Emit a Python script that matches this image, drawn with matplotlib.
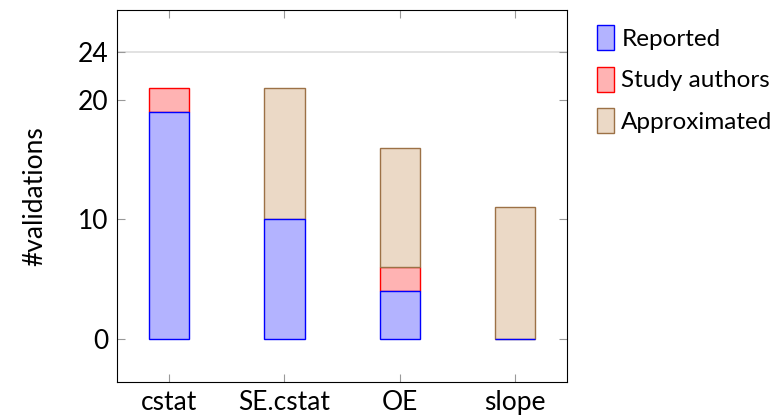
import numpy as np
import matplotlib.pyplot as plt

plt.rcParams['font.family'] = ['Lato', 'DejaVu Sans']
plt.rcParams['font.size'] = 19

categories = ["cstat", "SE.cstat", "OE", "slope"]
reported = [19, 10, 4, 0]
study_authors = [2, 0, 2, 0]
approximated = [0, 11, 10, 11]

fig = plt.figure(figsize=(7.84, 4.18), dpi=100)
ax = fig.add_axes([117/784, 1 - 382/418, 450/784, 372/418])

x = np.arange(len(categories))
w = 0.35
rep = np.array(reported)
stu = np.array(study_authors)
app = np.array(approximated)

# stacked bars, reported on top in z so the zero bar of slope still shows
ax.bar(x, rep, w, color="#b3b3ff", edgecolor="#0000ff", linewidth=1, label="Reported", zorder=3)
ax.bar(x[stu > 0], stu[stu > 0], w, bottom=rep[stu > 0], color="#ffb3b3", edgecolor="#ff0000",
       linewidth=1, label="Study authors", zorder=2)
ax.bar(x[app > 0], app[app > 0], w, bottom=(rep + stu)[app > 0], color="#ebd9c6", edgecolor="#9c7146",
       linewidth=1, label="Approximated", zorder=2)

ax.axhline(24, color="#dddddd", linewidth=1.2, zorder=0)

ax.set_xlim(-0.45, 3.45)
ax.set_ylim(-3.6, 27.5)
ax.set_xticks(x)
ax.set_xticklabels(categories)
ax.set_yticks([0, 10, 20, 24])
ax.tick_params(direction="in", length=6, color="#999999", top=True, right=True, pad=6)
ax.set_ylabel("#validations", labelpad=22)

ax.legend(loc="upper left", bbox_to_anchor=(1.045, 0.985), frameon=False, handlelength=0.7,
          handleheight=1.2, handletextpad=0.3, labelspacing=0.68, borderaxespad=0, fontsize=17.5)

fig.savefig("out.png", dpi=100)
